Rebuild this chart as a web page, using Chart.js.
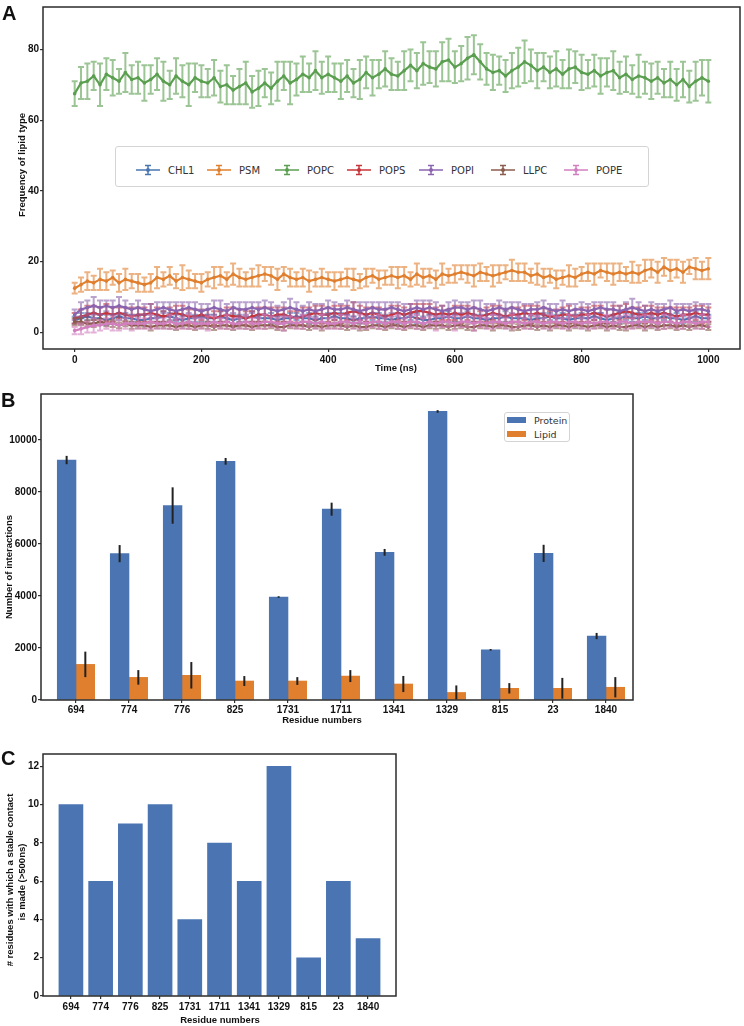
<!DOCTYPE html>
<html>
<head>
<meta charset="utf-8">
<script src="https://cdn.jsdelivr.net/npm/chart.js@4.4.0/dist/chart.umd.min.js"></script>
<style>
  html, body { margin: 0; padding: 0; background: #fff; }
  #fig { position: relative; width: 744px; height: 1026px; overflow: hidden;
         font-family: "Liberation Sans", Arial, sans-serif; color: #111; }
  #fig canvas { position: absolute; left: 0; }
  .lbl { position: absolute; font-weight: bold; white-space: nowrap; }
  .panel { font-size: 20px; line-height: 20px; }
  .axt { font-size: 9.5px; line-height: 11px; }
  .rot { transform: translate(-50%, -50%) rotate(-90deg); }
  .hc { transform: translate(-50%, -50%); }
  .legend { position: absolute; box-sizing: border-box; border: 1px solid #d4d4d4; border-radius: 3px;
            background: #fff; font-family: "DejaVu Sans", sans-serif; color: #333; }
  .aitem { position: absolute; top: 17px; height: 12px; display: flex; align-items: center; font-size: 10px; color: #333; }
  .aitem span { margin-left: 8px; }
  .bitem { position: absolute; left: 2px; display: flex; align-items: center; font-size: 9.5px; color: #333; }
  .bitem i { display: inline-block; width: 19px; height: 6px; margin-right: 8px; }
</style>
</head>
<body>
<div id="fig">
  <canvas id="chartA" width="744" height="372" style="top:0"></canvas>
  <canvas id="chartB" width="744" height="352" style="top:372px"></canvas>
  <canvas id="chartC" width="744" height="302" style="top:724px"></canvas>

  <div class="lbl panel" style="left:2px; top:3px;">A</div>
  <div class="lbl panel" style="left:1px; top:390px;">B</div>
  <div class="lbl panel" style="left:1px; top:748px;">C</div>

  <div class="lbl axt rot" style="left:21px; top:165px;">Frequency of lipid type</div>
  <div class="lbl axt hc" style="left:396px; top:367px;">Time (ns)</div>
  <div class="lbl axt rot" style="left:8px; top:567px;">Number of interactions</div>
  <div class="lbl axt hc" style="left:322px; top:719px;">Residue numbers</div>
  <div class="lbl axt rot" style="left:9px; top:880px;"># residues with which a stable contact</div>
  <div class="lbl axt rot" style="left:21px; top:882px;">is made (&gt;500ns)</div>
  <div class="lbl axt hc" style="left:220px; top:1019px;">Residue numbers</div>

  <div class="legend" id="legendA" style="left:115px; top:146px; width:534px; height:41px;"></div>
  <div class="legend" id="legendB" style="left:504px; top:412px; width:66px; height:30px;"></div>
</div>

<script>
// ---------- PANEL A DATA (frequency of lipid type, sampled every 10 ns) ----------
const lipidNames = ["CHL1", "PSM", "POPC", "POPS", "POPI", "LLPC", "POPE"];
const timeTicks = [0, 200, 400, 600, 800, 1000];
const freqTicks = [0, 20, 40, 60, 80];

const chl1 = [3.5,4,4.5,4,4,3.5,4,4.5,4,4,3.5,
  3.5,4,4,4.5,4.5,4,3.5,4,4,4.5,
  4,4,4.5,4,3.5,4,4,4.5,4,4,
  4,3.5,4,4,4.5,4,4,3.5,4,4,
  4.5,4,4,3.5,4,4,4.5,4,4,3.5,
  4,4,4.5,4,3.5,3.5,4,4,4.5,4,
  4,4.5,4,4,3.5,4,4,4.5,4,4,
  4,3.5,4,4,4.5,4,4,3.5,4,4,
  4,4.5,4,3.5,4,4,4.5,4,4,4.5,
  4,4,4.5,4,4,3.5,4,4.5,4,4];
const psm = [12.5,13.5,14.5,14,15,14.5,15.5,14,15,14.5,14,
  13.5,14,15.5,15,16,14.5,15.5,15,14.5,14,
  15,15.5,16,15,16.5,15.5,15,15.5,16,16.5,
  16,15,16.5,15.5,15,15.5,14.5,15,15.5,15,
  14.5,15,15.5,15,14.5,15.5,16,15,15.5,16,
  15.5,16,15,16.5,15.5,16,15,16.5,16,16.5,
  17,16.5,16,17,16.5,16,16.5,17,17.5,17,
  17,16,16.5,15.5,16,15,15.5,16,15.5,16.5,
  17,16.5,17.5,17,16.5,17,16.5,17,16.5,17.5,
  18,17,18.5,17.5,18,17,18.5,18,17.5,18];
const popc = [67.5,70.5,71,72.5,70,73,72,71,73.5,71.5,72,
  70.5,71.5,73,71,70,72.5,71,70,72,71,
  70.5,72,69.5,70,68.5,69.5,70.5,68,69,70.5,
  69,71,72.5,70.5,71.5,73,72,74,72,73,
  72,71,72.5,70.5,71.5,73.5,72,73,74.5,73,
  72.5,74,75.5,74,76,75,74.5,76.5,77,75,
  76,77.5,78.5,76.5,74.5,73.5,74,72.5,74,75,
  76.5,75.5,74,75,73.5,74.5,73,74.5,75,73.5,
  73,74,72.5,73.5,74,72,73,71.5,72.5,72,
  71,72,70.5,71.5,70,71.5,69.5,71,72,71];
const pops = [4,4.5,5,5.5,5,5.5,5,5.5,5,4.5,5,
  5,5.5,5,4.5,5,5.5,5,4.5,4.5,5,
  4.5,4,4.5,5,4.5,4.5,4,4.5,5,5,
  4.5,5,5,4.5,4,4.5,5,5.5,5,5,
  5.5,5,5.5,6,5.5,5,5.5,5,4.5,5,
  5.5,5,5.5,6,6,5.5,5,5.5,5,5.5,
  5,5.5,5,4.5,5,5.5,5,4.5,5,5,
  5.5,5,5.5,5,4.5,4.5,5,5,4.5,5,
  5,5.5,5,4.5,5,5.5,6,5.5,5,5,
  5.5,5,5.5,5,4.5,5,5,5.5,5,5];
const popi = [5,6.5,7,7.5,7,7.5,7,7.5,7,6.5,7,
  6.5,6,6.5,7,6.5,6,6.5,7,6.5,6,
  6.5,7,6.5,6,7,6.5,6.5,7,6.5,7,
  6.5,6,6.5,7,6.5,6,6.5,6,6.5,7,
  6.5,6.5,7,6.5,6,6.5,7,6.5,6.5,7,
  6.5,6,6.5,7,6.5,7,6.5,6,6.5,7,
  7,6.5,7,6.5,6,6.5,7,6.5,7,6.5,
  6,6.5,6.5,7,6.5,6,6.5,6,6.5,6.5,
  6,6.5,7,6.5,6.5,6,6.5,7,6.5,6,
  6.5,6,6.5,7,6,6.5,6,6.5,6.5,6];
const llpc = [3,3,2.5,2.5,3,2.5,2.5,2,2.5,2,2,
  2,1.5,2,2,2,1.5,2,2,1.5,2,
  2,1.5,2,2,1.5,2,2,1.5,2,2,
  2,1.5,1.5,2,2,2,1.5,2,1.5,2,
  2,2,1.5,2,1.5,1.5,2,2,1.5,2,
  2,1.5,2,2,1.5,2,2,2,1.5,2,
  2,1.5,1.5,2,2,1.5,2,2,1.5,1.5,
  2,2,1.5,2,1.5,2,2,1.5,2,2,
  1.5,2,2,1.5,2,1.5,1.5,2,2,1.5,
  2,1.5,2,2,1.5,2,1.5,2,2,1.5];
const pope = [0.5,1,1.5,2,2,2.5,2.5,2,2.5,2.5,2.5,
  2.5,3,2.5,2.5,3,2.5,2.5,3,2.5,2.5,
  2.5,3,2.5,3,2.5,2.5,3,2.5,2.5,3,
  3,2.5,2.5,3,2.5,3,3,2.5,3,2.5,
  2.5,3,3,2.5,3,2.5,3,3,2.5,3,
  3,2.5,3,3,2.5,3,2.5,3,3,2.5,
  3,3,2.5,3,2.5,3,3,2.5,3,3,
  2.5,3,3,2.5,3,3,2.5,3,3,2.5,
  3,2.5,3,3,2.5,3,3,2.5,3,3,
  3,2.5,3,3,2.5,3,3,2.5,3,3];

// standard deviations (error bars)
const chl1Err = [1,1.5,1,1.5,1,1.5,1,1,1.5,1,1,
  1.5,1,1,1.5,1,1,1.5,1,1,1.5,
  1,1,1.5,1,1.5,1,1,1.5,1,1,
  1.5,1,1,1.5,1,1,1.5,1,1,1.5,
  1,1.5,1,1,1.5,1,1,1.5,1,1,
  1.5,1,1,1.5,1,1.5,1,1,1.5,1,
  1,1.5,1,1,1.5,1,1,1.5,1,1,
  1.5,1,1,1.5,1,1,1.5,1,1,1.5,
  1,1,1.5,1,1,1.5,1,1,1.5,1,
  1,1.5,1,1,1.5,1,1,1.5,1,1];
const psmErr = [1.5,2,2.5,2,3,2.5,2,2.5,3,2,2.5,
  2,2.5,3,2,2.5,2,3.5,2.5,2,2.5,
  2,3,2.5,2,3,2.5,2,2.5,3,2,
  2.5,3,2,2.5,2,2.5,3,2,2.5,2,
  2.5,2,2.5,3,2,2.5,2,2.5,2,2.5,
  3,2.5,2,3,2.5,2,2.5,3,2,2.5,
  2,2.5,3,2.5,2,3,2.5,2,3,2.5,
  2.5,2,3,2.5,2,2.5,2,3,2.5,2,
  2.5,3,2,2.5,3,2.5,2,3,2.5,3,
  2.5,3,2.5,3,2.5,3,2,3,2.5,3];
const popcErr = [3.5,4.5,5,4,6,4.5,5,3.5,5.5,4,4.5,
  5,4,4.5,5.5,4,5,4.5,6,4,4.5,
  4,5,4.5,5.5,4,5,6,4.5,5,4,
  4.5,5.5,4,6,4.5,5,4,5.5,4.5,5,
  4,5,4.5,4,5.5,4.5,5,4,5,4.5,
  4,5.5,4.5,5,6,4.5,5,5.5,6,4.5,
  5,6,5.5,5,4.5,5,4,4.5,5,5.5,
  6,4.5,5,4,4.5,5,4,5.5,4.5,5,
  4,4.5,5,4,5.5,4.5,5,4,6,4.5,
  5,4.5,4,5,4.5,5,4.5,5.5,5,6];
const popsErr = [1.5,2,2.5,2,2,2.5,2,1.5,2,2.5,2,
  2,2.5,2,1.5,2,2,2.5,2,2,1.5,
  2,2,1.5,2,2.5,2,2,1.5,2,2,
  2.5,2,2,1.5,2,2.5,2,2,2.5,2,
  2,2.5,2,2.5,2,2,1.5,2,2,2.5,
  2,2,2.5,2,2,2.5,2,2,1.5,2,
  2.5,2,2,1.5,2,2,2.5,2,2,2,
  2,2.5,2,2,1.5,2,2,2.5,2,2,
  2,2,2.5,2,2.5,2,2,1.5,2,2.5,
  2,2,1.5,2,2.5,2,2,2,2.5,2];
const popiErr = [1.5,2,2,2.5,2,1.5,2,2.5,2,1.5,2,
  1.5,2,2,1.5,2,2.5,2,1.5,2,2,
  1.5,2,2.5,2,1.5,2,2,1.5,2,2,
  2,1.5,2,2.5,2,1.5,2,2,1.5,2,
  2,1.5,2,2,2.5,2,1.5,2,2,1.5,
  2,2,1.5,2,2.5,2,2,1.5,2,2,
  1.5,2,2,2.5,2,1.5,2,2,1.5,2,
  2,1.5,2,2,1.5,2,2.5,2,1.5,2,
  2,2,1.5,2,2,1.5,2,2.5,2,1.5,
  2,2,1.5,2,2,1.5,2,2,1.5,2];
const llpcErr = [1,1,0.8,1,0.8,0.8,1,0.8,0.8,1,0.8,
  0.8,1,0.8,0.8,1,0.8,0.8,1,0.8,0.8,
  1,0.8,0.8,1,0.8,0.8,1,0.8,0.8,1,
  0.8,0.8,1,0.8,0.8,1,0.8,0.8,1,0.8,
  0.8,1,0.8,0.8,1,0.8,0.8,1,0.8,0.8,
  1,0.8,0.8,1,0.8,0.8,1,0.8,0.8,1,
  0.8,0.8,1,0.8,0.8,1,0.8,0.8,1,0.8,
  0.8,1,0.8,0.8,1,0.8,0.8,1,0.8,0.8,
  1,0.8,0.8,1,0.8,0.8,1,0.8,0.8,1,
  0.8,0.8,1,0.8,0.8,1,0.8,0.8,1,0.8];
const popeErr = [1,1.5,1.5,2,1.5,1.5,2,1.5,1.5,2,1.5,
  1.5,2,1.5,1.5,2,1.5,1.5,2,1.5,1.5,
  2,1.5,1.5,2,1.5,1.5,2,1.5,1.5,2,
  1.5,1.5,2,1.5,1.5,2,1.5,1.5,2,1.5,
  1.5,2,1.5,1.5,2,1.5,1.5,2,1.5,1.5,
  2,1.5,1.5,2,1.5,1.5,2,1.5,1.5,2,
  1.5,1.5,2,1.5,1.5,2,1.5,1.5,2,1.5,
  1.5,2,1.5,1.5,2,1.5,1.5,2,1.5,1.5,
  2,1.5,1.5,2,1.5,1.5,2,1.5,1.5,2,
  1.5,1.5,2,1.5,1.5,2,1.5,1.5,2,1.5];

// ---------- PANEL B / C DATA ----------
const residues = ["694", "774", "776", "825", "1731", "1711", "1341", "1329", "815", "23", "1840"];
const proteinCounts = [9230, 5630, 7480, 9180, 3960, 7340, 5680, 11100, 1930, 5640, 2460];
const proteinErr    = [160, 330, 700, 130, 30, 250, 130, 50, 30, 330, 120];
const lipidCounts   = [1370, 870, 950, 730, 730, 920, 615, 290, 450, 450, 490];
const lipidErr      = [490, 280, 510, 190, 150, 230, 310, 270, 200, 400, 390];
const interactionTicks = [0, 2000, 4000, 6000, 8000, 10000];
const stableContacts = [10, 6, 9, 10, 4, 8, 6, 12, 2, 6, 3];
const contactTicks = [0, 2, 4, 6, 8, 10, 12];

// ---------- STYLE ----------
const lipidColors = ["#4a75b2", "#e07f2e", "#5a9f4f", "#c7343a", "#8a64ae", "#8b5b4c", "#d27fc0"];
const lipidErrColors = ["rgba(74,117,178,0.6)", "rgba(224,127,46,0.6)", "rgba(90,159,79,0.6)",
  "rgba(199,52,58,0.6)", "rgba(138,100,174,0.6)", "rgba(139,91,76,0.6)", "rgba(210,127,192,0.6)"];
const legendAX = [20, 91, 159, 231, 303, 375, 448];   // marker offsets inside legend box
const BLUE = "#4a75b2";
const ORANGE = "#e07f2e";

Chart.defaults.font.family = "'Liberation Sans', Arial, sans-serif";
Chart.defaults.font.size = 10;
Chart.defaults.font.weight = "bold";
Chart.defaults.color = "#111";
Chart.defaults.animation = false;

const tickGrid = { drawOnChartArea: false, drawTicks: true, tickLength: 3, color: "#333", lineWidth: 1.2, offset: false };

// full box around the axes
const framePlugin = {
  id: "frame",
  afterDraw(chart) {
    const a = chart.chartArea, ctx = chart.ctx;
    ctx.save();
    ctx.strokeStyle = "#2b2b2b";
    ctx.lineWidth = 1.5;
    ctx.strokeRect(a.left, a.top, a.right - a.left, a.bottom - a.top);
    ctx.restore();
  }
};

// ---------- PANEL A ----------
const times = popc.map((_, i) => i * 10);
const seriesA = [chl1, psm, popc, pops, popi, llpc, pope];
const errorsA = [chl1Err, psmErr, popcErr, popsErr, popiErr, llpcErr, popeErr];

const errLinePlugin = {
  id: "errLine",
  beforeDatasetDraw(chart, args) {
    const ds = chart.data.datasets[args.index];
    const y = chart.scales.y, ctx = chart.ctx;
    ctx.save();
    ctx.strokeStyle = ds.errColor;
    ctx.lineWidth = 2;
    ds.data.forEach((p, j) => {
      const e = ds.errors[j];
      if (e === undefined) return;
      const x = args.meta.data[j].x;
      const y1 = y.getPixelForValue(p.y + e), y2 = y.getPixelForValue(p.y - e);
      ctx.beginPath();
      ctx.moveTo(x, y1); ctx.lineTo(x, y2);
      ctx.moveTo(x - 3, y1); ctx.lineTo(x + 3, y1);
      ctx.moveTo(x - 3, y2); ctx.lineTo(x + 3, y2);
      ctx.stroke();
    });
    ctx.restore();
  }
};

new Chart(document.getElementById("chartA"), {
  type: "line",
  data: {
    datasets: seriesA.map((vals, i) => ({
      label: lipidNames[i],
      data: vals.map((v, j) => ({ x: times[j], y: v })),
      errors: errorsA[i],
      errColor: lipidErrColors[i],
      borderColor: lipidColors[i],
      backgroundColor: lipidColors[i],
      borderWidth: 2.2,
      pointRadius: 1.8,
      pointBorderWidth: 0,
      tension: 0,
      order: seriesA.length - i
    }))
  },
  options: {
    responsive: false,
    devicePixelRatio: 1,
    layout: { padding: { left: 0, top: 2, right: 3, bottom: 0 } },
    plugins: { legend: { display: false }, tooltip: { enabled: false } },
    scales: {
      x: {
        type: "linear", min: -50, max: 1050,
        afterBuildTicks: s => { s.ticks = timeTicks.map(v => ({ value: v })); },
        afterFit: s => { s.height = 23; },
        grid: tickGrid, border: { display: false },
        ticks: { padding: 2, maxRotation: 0, autoSkip: false, callback: v => String(v) }
      },
      y: {
        min: -4.7, max: 92,
        afterBuildTicks: s => { s.ticks = freqTicks.map(v => ({ value: v })); },
        afterFit: s => { s.width = 43; },
        grid: tickGrid, border: { display: false },
        ticks: { padding: 1, callback: v => String(v) }
      }
    }
  },
  plugins: [errLinePlugin, framePlugin]
});

// legend A with errorbar markers
const legendA = document.getElementById("legendA");
lipidNames.forEach((name, i) => {
  const c = lipidColors[i];
  legendA.insertAdjacentHTML("beforeend",
    `<div class="aitem" style="left:${legendAX[i]}px">` +
    `<svg width="24" height="12"><g stroke="${c}" stroke-width="1.5">` +
    `<line x1="0" y1="6" x2="24" y2="6"/><line x1="12" y1="1.5" x2="12" y2="10.5"/>` +
    `<line x1="9" y1="1.5" x2="15" y2="1.5"/><line x1="9" y1="10.5" x2="15" y2="10.5"/></g>` +
    `<circle cx="12" cy="6" r="2" fill="${c}"/></svg><span>${name}</span></div>`);
});

// ---------- PANEL B ----------
const barErrPlugin = {
  id: "barErr",
  afterDatasetsDraw(chart) {
    const y = chart.scales.y, ctx = chart.ctx;
    ctx.save();
    ctx.strokeStyle = "#222";
    ctx.lineWidth = 2;
    chart.data.datasets.forEach((ds, i) => {
      const meta = chart.getDatasetMeta(i);
      ds.data.forEach((p, j) => {
        const e = ds.errors[j];
        const x = meta.data[j].x;
        ctx.beginPath();
        ctx.moveTo(x, y.getPixelForValue(p.y + e));
        ctx.lineTo(x, y.getPixelForValue(Math.max(0, p.y - e)));
        ctx.stroke();
      });
    });
    ctx.restore();
  }
};

new Chart(document.getElementById("chartB"), {
  type: "bar",
  data: {
    datasets: [
      { label: "Protein", data: proteinCounts.map((v, i) => ({ x: i, y: v })), errors: proteinErr,
        backgroundColor: BLUE, barThickness: 18.7 },
      { label: "Lipid", data: lipidCounts.map((v, i) => ({ x: i, y: v })), errors: lipidErr,
        backgroundColor: ORANGE, barThickness: 18.7 }
    ]
  },
  options: {
    responsive: false,
    devicePixelRatio: 1,
    layout: { padding: { left: 0, top: 22, right: 111, bottom: 0 } },
    plugins: { legend: { display: false }, tooltip: { enabled: false } },
    scales: {
      x: {
        type: "linear", min: -0.66, max: 10.51, offset: false,
        afterBuildTicks: s => { s.ticks = residues.map((_, i) => ({ value: i })); },
        afterFit: s => { s.height = 24; },
        grid: tickGrid, border: { display: false },
        ticks: { padding: 1, maxRotation: 0, autoSkip: false, callback: v => residues[v] }
      },
      y: {
        min: 0, max: 11770,
        afterBuildTicks: s => { s.ticks = interactionTicks.map(v => ({ value: v })); },
        afterFit: s => { s.width = 41; },
        grid: tickGrid, border: { display: false },
        ticks: { padding: 1, callback: v => String(v) }
      }
    }
  },
  plugins: [barErrPlugin, framePlugin]
});

const legendB = document.getElementById("legendB");
[["Protein", BLUE], ["Lipid", ORANGE]].forEach(([name, c], i) => {
  legendB.insertAdjacentHTML("beforeend",
    `<div class="bitem" style="top:${i * 14 + 1}px; height:12px;"><i style="background:${c}"></i>${name}</div>`);
});

// ---------- PANEL C ----------
new Chart(document.getElementById("chartC"), {
  type: "bar",
  data: {
    datasets: [
      { label: "Stable contacts", data: stableContacts.map((v, i) => ({ x: i, y: v })),
        backgroundColor: BLUE, barThickness: 24 }
    ]
  },
  options: {
    responsive: false,
    devicePixelRatio: 1,
    layout: { padding: { left: 0, top: 30, right: 348, bottom: 0 } },
    plugins: { legend: { display: false }, tooltip: { enabled: false } },
    scales: {
      x: {
        type: "linear", min: -0.94, max: 10.94, offset: false,
        afterBuildTicks: s => { s.ticks = residues.map((_, i) => ({ value: i })); },
        afterFit: s => { s.height = 30; },
        grid: tickGrid, border: { display: false },
        ticks: { padding: 2, maxRotation: 0, autoSkip: false, callback: v => residues[v] }
      },
      y: {
        min: 0, max: 12.65,
        afterBuildTicks: s => { s.ticks = contactTicks.map(v => ({ value: v })); },
        afterFit: s => { s.width = 43; },
        grid: tickGrid, border: { display: false },
        ticks: { padding: 1, callback: v => String(v) }
      }
    }
  },
  plugins: [framePlugin]
});
</script>
</body>
</html>
